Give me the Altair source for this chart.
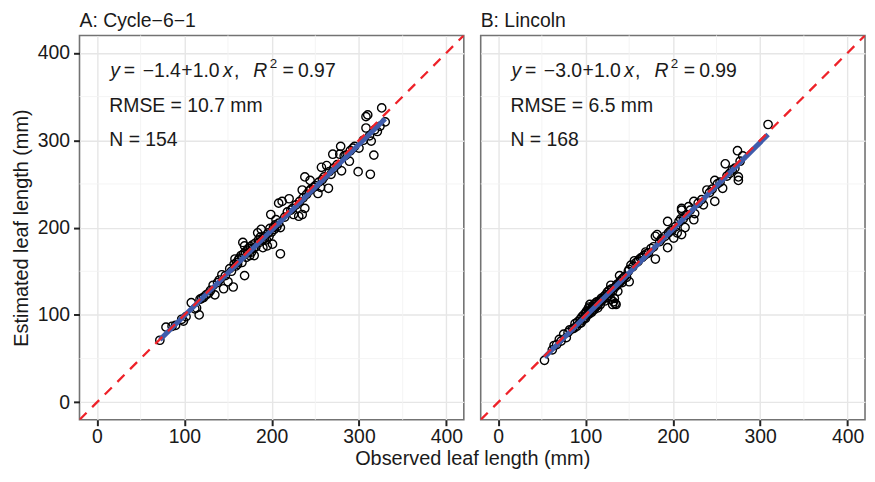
import altair as alt
import pandas as pd

# ---------------- data ----------------
panel_titles = ["A: Cycle\u22126\u22121", "B: Lincoln"]
intercepts = [-1.4, -3.0]
slopes = [1.0, 1.0]
r_squared = [0.97, 0.99]
rmse_mm = [10.7, 6.5]
n_obs = [154, 168]
major_ticks = [0, 100, 200, 300, 400]
minor_breaks = [50, 150, 250, 350]
axis_domain = [-20, 420]
one_to_one = [-20, 420]

a_obs = [72, 79, 86, 90, 97, 99, 102, 108, 112, 114, 117, 118, 120, 122, 125, 128, 130,
         133, 135, 138, 140, 143, 145, 147, 150, 152, 154, 156, 157, 158, 159, 160, 161, 162, 163, 165, 166, 167, 168, 169, 169, 170,
         171, 172, 173, 174, 175, 176, 177, 178, 179, 180, 181, 182, 184, 185, 186, 187, 188, 189, 190, 191, 192, 194, 195, 196, 197, 198, 199, 200, 201, 202, 203, 204, 205, 206, 208, 208, 210, 210,
         212, 215, 218, 220, 222, 224, 225, 228, 231, 232, 235, 235, 236, 238, 238, 240, 243, 244, 245, 248, 250, 253, 254, 256, 257, 258,
         260, 263, 265, 266, 268, 270, 271, 275, 278, 279, 280, 283, 285, 289, 290, 293, 295, 299, 300, 305, 308, 308, 310, 312, 313, 314, 317, 318, 321, 324, 326, 330]
a_est = [71, 86, 87, 88, 95, 93, 98, 114, 107, 108, 100, 118, 119, 120, 123, 125, 128,
         134, 123, 137, 140, 146, 130, 145, 138, 153, 150, 132, 158, 164, 156, 160, 158, 163, 165, 168, 160, 183, 170, 179, 145, 172,
         166, 174, 171, 176, 168, 178, 172, 180, 176, 168, 182, 178, 194, 186, 183, 189, 198, 185, 177, 190, 188, 186, 179, 194, 190, 199, 215, 195, 181, 200, 198, 203, 209, 201, 228, 205, 170, 200,
         230, 212, 218, 233, 220, 222, 215, 226, 213, 230, 215, 243, 234, 222, 258, 238, 242, 254, 244, 246, 248, 239, 252, 246, 269, 255,
         258, 271, 245, 264, 261, 284, 268, 272, 284, 293, 265, 282, 283, 276, 288, 291, 293, 264, 291, 300, 314, 327, 329, 305, 261, 299, 283, 312, 310, 316, 337, 321]

b_obs = [53, 62, 64, 67, 70, 72, 75, 78, 80, 82, 85, 87, 88, 90, 91, 93, 94, 95, 96, 97, 98, 99, 100, 100, 101, 102, 103, 104, 104, 105, 105, 106, 107, 108, 108, 109, 110, 110, 111, 112, 113, 113, 114, 115, 116, 117, 118, 119, 120,
         121, 122, 123, 124, 125, 126, 127, 128, 129, 129, 130, 131, 131, 132, 133, 133, 134, 135, 135, 136, 137, 138, 139, 140, 141, 142, 143, 145, 147, 149, 150, 150, 152, 154, 156, 158, 160,
         161, 163, 165, 167, 169, 170, 172, 175, 178, 180, 180, 182, 185, 187, 191, 194, 194, 195, 197, 199,
         201, 203, 205, 207, 209, 210, 210, 210, 212, 214, 215, 218, 220, 224, 224, 225, 229, 233, 235, 239,
         242, 245, 248, 248, 251, 254, 257, 260, 262, 265, 268, 271, 274, 275, 275, 277, 280, 309]
b_est = [48, 60, 65, 66, 72, 70, 78, 74, 80, 83, 84, 85, 90, 87, 92, 90, 95, 91, 98, 94, 100, 97, 102, 96, 104, 100, 107, 101, 109, 112, 104, 106, 103, 110, 105, 108, 112, 106, 109, 114, 115, 110, 108, 113, 116, 112, 119, 117, 118,
         121, 116, 123, 120, 126, 122, 128, 125, 134, 118, 130, 112, 127, 115, 119, 131, 113, 112, 133, 135, 127, 136, 145, 138, 140, 137, 142, 144, 143, 150, 138, 152, 157, 155, 162, 160, 161,
         163, 165, 166, 168, 172, 170, 171, 176, 178, 164, 190, 192, 184, 187, 190, 207, 177, 194, 196, 197,
         188, 201, 194, 207, 210, 192, 220, 222, 210, 200, 214, 224, 220, 230, 209, 216, 228, 232, 226, 243,
         240, 244, 230, 254, 250, 252, 245, 273, 259, 262, 266, 268, 288, 258, 254, 276, 282, 318]

obs_lists = [a_obs, b_obs]
est_lists = [a_est, b_est]

# ---------------- styling ----------------
FONT = "Liberation Sans"
W = 387
H = 387
TXT = "#1a1a1a"


def fmt(v):
    s = f"{abs(v):.1f}"
    return ("\u2212" + s) if v < 0 else s


def panel(i, show_y):
    df = pd.DataFrame({"obs": obs_lists[i], "est": est_lists[i]})
    scale = alt.Scale(domain=axis_domain, nice=False, zero=False)

    xaxis = alt.Axis(values=major_ticks, grid=True, gridColor="#e6e6e6", gridWidth=1.4,
                     domain=False, tickColor="#222222", tickWidth=2, tickSize=6,
                     labelColor=TXT, labelFont=FONT, labelFontSize=19.5, labelPadding=2,
                     title=None)

    if show_y:
        yaxis = alt.Axis(values=major_ticks, grid=True, gridColor="#e6e6e6", gridWidth=1.4,
                         domain=False, tickColor="#222222", tickWidth=2, tickSize=6,
                         labelColor=TXT, labelFont=FONT, labelFontSize=19.5, labelPadding=4,
                         title="Estimated leaf length (mm)", titleFont=FONT, titleFontSize=20,
                         titleFontWeight="normal", titleColor=TXT, titlePadding=6)
    else:
        yaxis = alt.Axis(values=major_ticks, grid=True, gridColor="#e6e6e6", gridWidth=1.4,
                         domain=False, ticks=False, labels=False, title=None)

    def X(field):
        return alt.X(field, type="quantitative", scale=scale, axis=xaxis)

    def Y(field):
        return alt.Y(field, type="quantitative", scale=scale, axis=yaxis)

    minor = pd.DataFrame({"obs": minor_breaks, "est": minor_breaks})
    minor_v = alt.Chart(minor).mark_rule(color="#f3f3f3", strokeWidth=0.9).encode(x=X("obs"))
    minor_h = alt.Chart(minor).mark_rule(color="#f3f3f3", strokeWidth=0.9).encode(y=Y("est"))

    pts = alt.Chart(df).mark_point(shape="circle", filled=False, color="black",
                                   strokeWidth=1.4, size=70, opacity=1).encode(x=X("obs"), y=Y("est"))
    reg = alt.Chart(df).transform_regression("obs", "est").mark_line(
        color="#3f5dac", strokeWidth=5).encode(x=X("obs"), y=Y("est"))
    ident_df = pd.DataFrame({"obs": one_to_one, "est": one_to_one})
    ident = alt.Chart(ident_df).mark_line(color="#ee2229", strokeWidth=2.3,
                                          strokeDash=[10, 8], clip=True).encode(x=X("obs"), y=Y("est"))

    # annotation text (segments, to get italic symbols and superscript)
    x0 = 30
    b1, b2, b3 = 42, 77, 111
    segs = [
        ("y", 1, 0, "italic", 19.5),
        ("=", 14.6, 0, "normal", 19.5),
        (fmt(intercepts[i]), 33.6, 0, "normal", 19.5),
        ("+", 72.4, 0, "normal", 19.5),
        (f"{slopes[i]:.1f}", 84, 0, "normal", 19.5),
        ("x", 114.5, 0, "italic", 19.5),
        (",", 125.5, 0, "normal", 19.5),
        ("R", 145, 0, "italic", 19.5),
        ("2", 161.5, -9, "normal", 13.5),
        ("=", 174.5, 0, "normal", 19.5),
        (f"{r_squared[i]:.2f}", 190, 0, "normal", 19.5),
    ]
    texts = []
    for s, dx, dy, style, size in segs:
        texts.append(alt.Chart(pd.DataFrame({"t": [s]})).mark_text(
            align="left", baseline="alphabetic", font=FONT, fontSize=size, fontStyle=style,
            color=TXT).encode(text="t:N", x=alt.value(x0 + dx), y=alt.value(b1 + dy)))
    for s, b in [(f"RMSE = {rmse_mm[i]:.1f} mm", b2), (f"N = {n_obs[i]}", b3)]:
        texts.append(alt.Chart(pd.DataFrame({"t": [s]})).mark_text(
            align="left", baseline="alphabetic", font=FONT, fontSize=19.5,
            color=TXT).encode(text="t:N", x=alt.value(x0), y=alt.value(b)))

    return alt.layer(minor_v, minor_h, pts, reg, ident, *texts).properties(
        width=W, height=H,
        title=alt.TitleParams(panel_titles[i], anchor="start", frame="group", font=FONT,
                              fontSize=19.5, fontWeight="normal", color=TXT, offset=4))


chart = alt.hconcat(panel(0, True), panel(1, False), spacing=13).properties(
    padding={"left": 2, "top": 0, "right": 0, "bottom": 0},
    title=alt.TitleParams("Observed leaf length (mm)", orient="bottom", anchor="middle",
                          font=FONT, fontSize=20, fontWeight="normal", color=TXT,
                          offset=2, dx=34.5),
).configure_view(stroke="#737373", strokeWidth=1.6)

chart.save("out.html", embed_options={"renderer": "svg", "actions": False})
